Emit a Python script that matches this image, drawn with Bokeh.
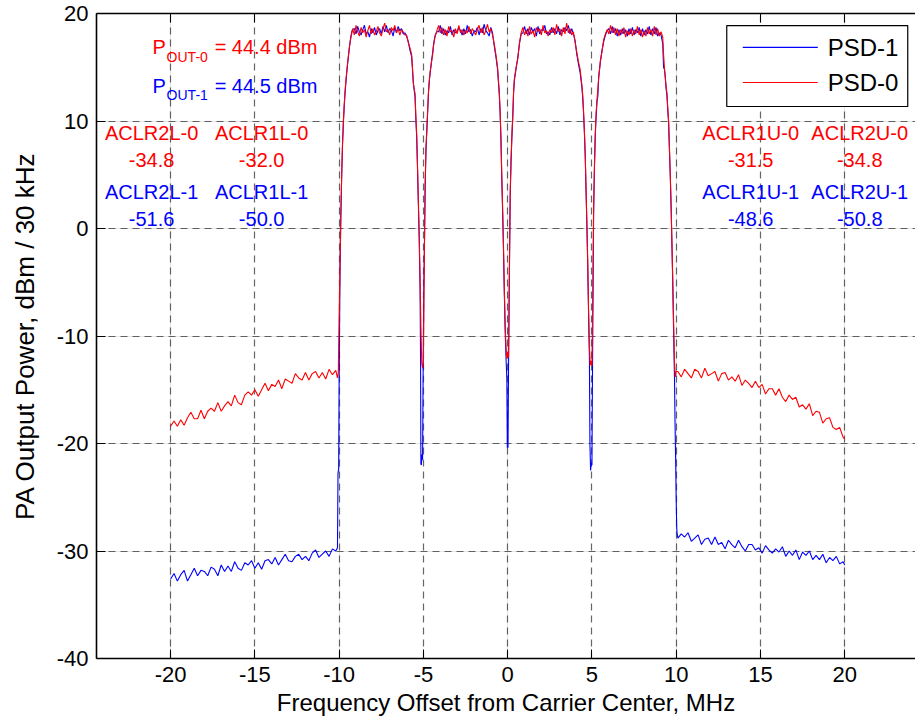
from bokeh.plotting import figure
from bokeh.models import (LinearAxis, FixedTicker, Range1d, Grid, BoxAnnotation)
from bokeh.core.properties import value
from bokeh.embed import file_html
from bokeh.resources import INLINE

# ---------------- data ----------------
# lower adjacent region (shared frequency grid, MHz)
lower_aclr_f = [-20.0, -19.8, -19.6, -19.4, -19.2, -19.0, -18.8, -18.6, -18.4, -18.2,
                -18.0, -17.8, -17.6, -17.4, -17.2, -17.0, -16.8, -16.6, -16.4, -16.2,
                -16.0, -15.8, -15.6, -15.4, -15.2, -15.0, -14.8, -14.6, -14.4, -14.2,
                -14.0, -13.8, -13.6, -13.4, -13.2, -13.0, -12.8, -12.6, -12.4, -12.2,
                -12.0, -11.8, -11.6, -11.4, -11.2, -11.0, -10.8, -10.6, -10.4, -10.2]
lower_aclr_psd0 = [-18.4, -17.9, -18.4, -17.8, -18.3, -17.6, -17.1, -17.7, -17.7, -16.9,
                   -17.7, -17.0, -16.7, -17.0, -16.2, -17.0, -16.5, -16.1, -16.5, -15.5,
                   -16.2, -16.4, -15.5, -15.2, -15.5, -15.0, -15.6, -15.0, -14.4, -15.1,
                   -14.5, -14.7, -14.1, -14.9, -14.0, -14.2, -14.4, -13.5, -13.9, -14.1,
                   -13.4, -14.1, -13.5, -13.3, -13.9, -13.4, -14.0, -13.1, -13.6, -13.2]
lower_aclr_psd1 = [-32.6, -32.1, -32.8, -32.2, -31.8, -32.8, -32.2, -31.6, -32.3, -31.8,
                   -31.9, -32.3, -31.5, -31.7, -32.3, -31.3, -31.9, -31.4, -31.9, -31.0,
                   -31.6, -31.8, -31.1, -31.3, -30.9, -31.6, -31.1, -31.7, -30.9, -30.8,
                   -31.2, -30.6, -31.3, -30.8, -30.3, -30.9, -31.0, -30.5, -30.3, -30.8,
                   -30.5, -30.9, -30.2, -29.9, -30.6, -30.3, -30.0, -30.5, -29.8, -30.0]

# edge at -10 MHz
edge_a_f0 = [-10.1, -10.05, -10.0, -9.95, -9.9, -9.85, -9.8, -9.75, -9.7, -9.65,
             -9.6, -9.55, -9.5, -9.45, -9.4, -9.35, -9.3, -9.25, -9.2]
edge_a_psd0 = [-13.9, -13.4, -8.0, -3.5, 1.5, 5.0, 8.0, 10.0, 11.5, 12.8,
               13.8, 14.6, 15.4, 16.1, 16.8, 17.3, 17.8, 18.2, 18.6]
edge_a_f1 = [-10.1, -10.07, -10.03, -10.0, -9.95, -9.9, -9.85, -9.8, -9.75, -9.7,
             -9.65, -9.6, -9.55, -9.5, -9.45, -9.4, -9.35, -9.3, -9.25, -9.2]
edge_a_psd1 = [-29.7, -22.8, -22.3, -13.5, -4.0, 1.0, 5.0, 7.8, 9.8, 11.4,
               12.6, 13.6, 14.5, 15.3, 16.0, 16.7, 17.4, 17.9, 18.3, 18.5]

# carrier 1 top
top1_f = [-9.1, -9.0, -8.9, -8.8, -8.7, -8.6, -8.5, -8.4, -8.3, -8.2, -8.1, -8.0, -7.9,
          -7.8, -7.7, -7.6, -7.5, -7.4, -7.3, -7.2, -7.1, -7.0, -6.9, -6.8, -6.7, -6.6,
          -6.5, -6.4, -6.3, -6.2, -6.1]
top1_psd0 = [18.0, 18.9, 18.3, 17.9, 18.7, 18.2, 18.5, 17.8, 18.4, 18.9, 18.1, 18.6, 18.0,
             18.3, 18.8, 18.2, 17.9, 18.6, 19.1, 18.3, 18.5, 18.0, 18.7, 18.4, 18.9, 18.2,
             18.6, 18.0, 18.5, 18.3, 18.0]
top1_psd1 = [18.6, 18.1, 18.8, 18.3, 18.0, 18.5, 18.9, 18.1, 18.3, 17.8, 18.6, 18.2, 18.7,
             18.0, 18.4, 18.6, 18.1, 18.8, 18.3, 18.9, 18.2, 18.6, 18.4, 17.9, 18.7, 18.2,
             18.8, 18.4, 18.6, 18.1, 18.2]

# gap at -5 MHz
edge_b_f0 = [-6.0, -5.9, -5.8, -5.7, -5.65, -5.6, -5.55, -5.5, -5.45, -5.4, -5.35, -5.3,
             -5.25, -5.2, -5.15, -5.1, -5.05, -5.0, -4.95, -4.9, -4.85, -4.8, -4.75, -4.7,
             -4.65, -4.6, -4.55, -4.5, -4.45, -4.4, -4.35, -4.3, -4.2]
edge_b_psd0 = [18.0, 17.3, 16.8, 16.2, 15.0, 13.5, 13.0, 12.6, 10.5, 8.8, 5.8, 2.6,
               -0.5, -4.5, -9.0, -12.5, -13.0, -12.2, -3.0, 4.0, 7.5, 9.2, 11.0, 12.8,
               13.8, 14.6, 15.2, 15.7, 16.2, 17.0, 17.5, 17.9, 18.4]
edge_b_f1 = [-6.0, -5.9, -5.8, -5.7, -5.65, -5.6, -5.55, -5.5, -5.45, -5.4, -5.35, -5.3,
             -5.25, -5.2, -5.17, -5.15, -5.12, -5.08, -5.05, -5.02, -4.98, -4.95, -4.9,
             -4.85, -4.8, -4.75, -4.7, -4.65, -4.6, -4.55, -4.5, -4.45, -4.4, -4.35, -4.3, -4.2]
edge_b_psd1 = [17.9, 17.4, 16.6, 16.0, 14.8, 13.6, 12.9, 12.3, 10.2, 8.5, 5.5, 2.2,
               -1.0, -5.5, -12.0, -21.9, -22.0, -21.0, -21.5, -14.0, -6.0, -3.0, 3.5,
               7.2, 9.0, 10.8, 12.6, 13.7, 14.5, 15.1, 15.8, 16.4, 17.1, 17.6, 18.0, 18.3]

# carrier 2 top
top2_f = [-4.1, -4.0, -3.9, -3.8, -3.7, -3.6, -3.5, -3.4, -3.3, -3.2, -3.1, -3.0, -2.9,
          -2.8, -2.7, -2.6, -2.5, -2.4, -2.3, -2.2, -2.1, -2.0, -1.9, -1.8, -1.7, -1.6,
          -1.5, -1.4, -1.3, -1.2, -1.1, -1.0, -0.9]
top2_psd0 = [18.9, 18.2, 18.7, 18.0, 18.5, 17.9, 18.8, 18.3, 18.4, 17.8, 18.6, 18.1, 18.9,
             18.2, 18.5, 18.0, 18.4, 18.2, 18.8, 18.1, 18.6, 18.3, 18.0, 18.5, 18.9, 18.2,
             18.7, 18.0, 18.4, 19.0, 18.3, 18.6, 18.0]
top2_psd1 = [18.3, 18.9, 18.1, 18.6, 18.0, 18.4, 18.2, 18.8, 18.0, 18.5, 18.2, 18.3, 18.7,
             18.4, 18.0, 18.6, 18.1, 18.9, 18.3, 18.5, 17.9, 18.4, 18.3, 18.7, 18.0, 18.6,
             18.2, 19.0, 18.4, 18.2, 17.9, 18.7, 18.2]

# gap at 0 MHz
edge_c_f0 = [-0.8, -0.7, -0.6, -0.55, -0.5, -0.45, -0.4, -0.35, -0.3, -0.25, -0.2, -0.15,
             -0.1, -0.05, 0.0, 0.05, 0.1, 0.15, 0.2, 0.25, 0.3, 0.35, 0.4, 0.5, 0.6, 0.7, 0.8]
edge_c_psd0 = [17.2, 16.2, 15.0, 13.8, 12.8, 11.0, 8.5, 5.0, 2.0, -1.5, -5.5, -9.0,
               -11.0, -12.1, -11.5, -12.0, -4.0, 3.5, 6.5, 8.8, 10.5, 12.8, 14.0, 15.0,
               15.8, 17.3, 18.2]
edge_c_f1 = [-0.8, -0.7, -0.6, -0.55, -0.5, -0.45, -0.4, -0.35, -0.3, -0.25, -0.2, -0.15,
             -0.1, -0.05, -0.02, 0.0, 0.02, 0.05, 0.1, 0.15, 0.2, 0.25, 0.3, 0.35, 0.4,
             0.5, 0.6, 0.7, 0.8]
edge_c_psd1 = [17.0, 16.0, 14.8, 13.6, 12.5, 10.8, 8.2, 4.6, 1.5, -2.0, -6.0, -9.5,
               -12.0, -14.0, -20.4, -17.0, -20.4, -13.0, -4.5, 3.0, 6.2, 8.5, 10.2, 12.6,
               13.8, 14.9, 15.9, 17.2, 18.1]

# carrier 3 top
top3_f = [0.9, 1.0, 1.1, 1.2, 1.3, 1.4, 1.5, 1.6, 1.7, 1.8, 1.9, 2.0, 2.1, 2.2, 2.3, 2.4,
          2.5, 2.6, 2.7, 2.8, 2.9, 3.0, 3.1, 3.2, 3.3, 3.4, 3.5, 3.6, 3.7, 3.8, 3.9]
top3_psd0 = [18.7, 18.0, 18.5, 17.9, 18.8, 18.1, 18.4, 17.8, 18.7, 18.3, 18.6, 18.0, 18.9,
             18.2, 18.4, 17.9, 18.5, 18.2, 18.7, 18.0, 19.0, 18.3, 18.6, 17.9, 18.7, 18.1,
             19.1, 18.2, 18.6, 18.0, 18.3]
top3_psd1 = [18.2, 18.8, 18.1, 18.6, 18.0, 18.7, 18.3, 18.6, 17.9, 18.8, 18.1, 18.5, 18.4,
             18.9, 18.1, 18.3, 18.0, 18.7, 18.2, 18.6, 18.1, 18.8, 18.0, 18.5, 18.3, 18.7,
             18.4, 18.9, 18.1, 18.6, 18.1]

# gap at +5 MHz
edge_d_f0 = [4.0, 4.1, 4.2, 4.3, 4.4, 4.45, 4.5, 4.55, 4.6, 4.65, 4.7, 4.75, 4.8, 4.85,
             4.9, 4.95, 5.0, 5.05, 5.1, 5.15, 5.2, 5.25, 5.3, 5.35, 5.4, 5.5, 5.6, 5.7,
             5.8, 5.9]
edge_d_psd0 = [17.3, 16.4, 15.5, 14.8, 13.4, 12.5, 11.0, 9.2, 7.0, 3.8, 0.5, -3.0, -7.5,
               -11.0, -12.7, -12.3, -12.8, -6.0, 2.0, 6.0, 9.0, 10.8, 12.0, 13.0, 14.0,
               15.6, 16.5, 17.6, 18.1, 18.5]
edge_d_f1 = [4.0, 4.1, 4.2, 4.3, 4.4, 4.45, 4.5, 4.55, 4.6, 4.65, 4.7, 4.75, 4.8, 4.85,
             4.88, 4.92, 4.96, 5.0, 5.03, 5.07, 5.1, 5.15, 5.2, 5.25, 5.3, 5.35, 5.4, 5.5,
             5.6, 5.7, 5.8, 5.9]
edge_d_psd1 = [17.5, 16.2, 15.3, 14.5, 13.2, 12.2, 10.8, 9.0, 6.8, 3.5, 0.2, -3.5, -8.0,
               -12.0, -20.0, -22.5, -21.8, -22.0, -14.0, -5.0, 1.5, 5.7, 8.7, 10.5, 11.8,
               12.3, 14.1, 15.5, 16.6, 17.4, 18.0, 18.4]

# carrier 4 top
top4_f = [6.0, 6.1, 6.2, 6.3, 6.4, 6.5, 6.6, 6.7, 6.8, 6.9, 7.0, 7.1, 7.2, 7.3, 7.4, 7.5,
          7.6, 7.7, 7.8, 7.9, 8.0, 8.1, 8.2, 8.3, 8.4, 8.5, 8.6, 8.7, 8.8, 8.9, 9.0, 9.1]
top4_psd0 = [18.1, 18.9, 18.2, 18.7, 18.0, 18.6, 17.9, 18.5, 18.1, 18.7, 17.8, 18.4, 18.0,
             18.6, 17.9, 18.5, 18.1, 18.8, 18.0, 18.5, 17.8, 18.4, 17.9, 18.7, 18.1, 18.5,
             17.9, 18.8, 18.0, 18.6, 17.9, 18.3]
top4_psd1 = [18.6, 18.1, 18.8, 18.2, 18.6, 17.9, 18.5, 18.0, 18.6, 18.1, 18.5, 17.9, 18.6,
             18.1, 18.7, 18.0, 18.5, 18.2, 18.7, 17.9, 18.6, 18.0, 18.5, 18.1, 18.8, 18.0,
             18.6, 18.1, 18.7, 17.9, 18.2, 18.0]

# edge at +10 MHz
edge_e_f0 = [9.2, 9.25, 9.3, 9.35, 9.4, 9.45, 9.5, 9.55, 9.6, 9.65, 9.7, 9.75, 9.8,
             9.85, 9.9, 9.95, 10.0]
edge_e_psd0 = [17.8, 16.2, 15.0, 14.0, 13.2, 12.6, 11.2, 10.0, 7.5, 5.0, 2.0, -1.5, -5.0,
               -9.0, -12.5, -13.8, -13.3]
edge_e_f1 = [9.2, 9.25, 9.3, 9.35, 9.4, 9.45, 9.5, 9.55, 9.6, 9.65, 9.7, 9.75, 9.8,
             9.85, 9.9, 9.93, 9.97, 10.0, 10.03, 10.05]
edge_e_psd1 = [17.2, 15.0, 14.8, 14.2, 13.0, 12.4, 11.0, 9.8, 7.2, 4.8, 1.8, -1.8, -5.5,
               -10.0, -14.0, -18.0, -21.9, -25.3, -27.8, -28.3]

# upper adjacent region
upper_aclr_f = [10.1, 10.3, 10.5, 10.7, 10.9, 11.1, 11.3, 11.5, 11.7, 11.9,
                12.1, 12.3, 12.5, 12.7, 12.9, 13.1, 13.3, 13.5, 13.7, 13.9,
                14.1, 14.3, 14.5, 14.7, 14.9, 15.1, 15.3, 15.5, 15.7, 15.9,
                16.1, 16.3, 16.5, 16.7, 16.9, 17.1, 17.3, 17.5, 17.7, 17.9,
                18.1, 18.3, 18.5, 18.7, 18.9, 19.1, 19.3, 19.5, 19.7, 19.9, 20.0]
upper_aclr_psd0 = [-13.3, -13.8, -13.1, -13.5, -13.9, -13.1, -13.3, -13.9, -13.0, -13.7,
                   -13.5, -13.3, -14.2, -13.5, -13.4, -14.1, -13.8, -14.2, -13.6, -14.6,
                   -14.1, -14.4, -14.8, -14.2, -14.8, -14.5, -15.4, -14.9, -14.9, -15.5,
                   -14.9, -15.7, -16.1, -15.5, -15.9, -15.7, -16.6, -16.4, -16.8, -16.3,
                   -17.4, -17.0, -17.1, -18.1, -17.7, -17.6, -18.5, -18.7, -18.5, -19.4, -19.6]
upper_aclr_psd1 = [-28.8, -28.4, -28.7, -28.3, -29.1, -28.8, -28.5, -29.4, -28.9, -28.8,
                   -29.4, -28.7, -29.4, -29.2, -29.8, -29.0, -29.4, -29.7, -29.0, -29.6,
                   -30.0, -29.4, -29.4, -29.9, -29.7, -30.2, -29.5, -29.9, -30.2, -29.8,
                   -30.1, -29.6, -30.5, -30.0, -30.4, -29.9, -30.8, -30.1, -30.4, -30.0,
                   -30.8, -30.4, -30.8, -30.3, -31.1, -30.6, -30.9, -30.5, -31.2, -31.0, -31.3]

series_names = ["PSD-1", "PSD-0"]
pout_0 = "44.4"
pout_1 = "44.5"
aclr_names = ["ACLR2L", "ACLR1L", "ACLR1U", "ACLR2U"]
aclr_psd0 = ["-34.8", "-32.0", "-31.5", "-34.8"]
aclr_psd1 = ["-51.6", "-50.0", "-48.6", "-50.8"]

x_ticks = [-20, -15, -10, -5, 0, 5, 10, 15, 20]
x_tick_labels = ["-20", "-15", "-10", "-5", "0", "5", "10", "15", "20"]
y_ticks = [-40, -30, -20, -10, 0, 10, 20]
y_tick_labels = ["-40", "-30", "-20", "-10", "0", "10", "20"]

# ---------------- assemble series ----------------
psd0_f = (lower_aclr_f + edge_a_f0 + top1_f + edge_b_f0 + top2_f + edge_c_f0 + top3_f
          + edge_d_f0 + top4_f + edge_e_f0 + upper_aclr_f)
psd0_y = (lower_aclr_psd0 + edge_a_psd0 + top1_psd0 + edge_b_psd0 + top2_psd0 + edge_c_psd0
          + top3_psd0 + edge_d_psd0 + top4_psd0 + edge_e_psd0 + upper_aclr_psd0)
psd1_f = (lower_aclr_f + edge_a_f1 + top1_f + edge_b_f1 + top2_f + edge_c_f1 + top3_f
          + edge_d_f1 + top4_f + edge_e_f1 + upper_aclr_f)
psd1_y = (lower_aclr_psd1 + edge_a_psd1 + top1_psd1 + edge_b_psd1 + top2_psd1 + edge_c_psd1
          + top3_psd1 + edge_d_psd1 + top4_psd1 + edge_e_psd1 + upper_aclr_psd1)

# ---------------- figure ----------------
FONT = "Liberation Sans"
RED = "#FF0000"
BLUE = "#0000FF"
series_colors = [BLUE, RED]

p = figure(width=915, height=725, output_backend="svg", toolbar_location=None,
           x_range=Range1d(-24.4, 24.2), y_range=Range1d(-40, 20),
           x_axis_location=None, y_axis_location=None,
           min_border_left=96, min_border_right=0, min_border_top=13, min_border_bottom=67)
p.outline_line_color = None
p.background_fill_color = "white"
p.border_fill_color = "white"

def style_axis(ax, labels, ticks):
    ax.ticker = FixedTicker(ticks=ticks)
    ax.major_label_overrides = {t: l for t, l in zip(ticks, labels)}
    ax.major_tick_in = 9
    ax.major_tick_out = 0
    ax.minor_tick_line_color = None
    ax.major_tick_line_color = "black"
    ax.axis_line_color = "black"
    ax.axis_line_width = 1.6
    ax.major_label_text_font = FONT
    ax.major_label_text_font_size = "22px"
    ax.major_label_text_color = "black"
    ax.axis_label_text_font = FONT
    ax.axis_label_text_font_style = "normal"
    ax.axis_label_text_color = "black"

xax = LinearAxis(axis_label="Frequency Offset from Carrier Center, MHz")
style_axis(xax, x_tick_labels, x_ticks)
xax.major_label_standoff = 8
xax.axis_label_standoff = 4
xax.axis_label_text_font_size = "24px"
p.add_layout(xax, "below")

yax = LinearAxis(axis_label="PA Output Power, dBm / 30 kHz")
style_axis(yax, y_tick_labels, y_ticks)
yax.major_label_standoff = 8
yax.axis_label_standoff = 14
yax.axis_label_text_font_size = "26px"
p.add_layout(yax, "left")

tax = LinearAxis()
style_axis(tax, ["" for _ in x_ticks], x_ticks)
tax.major_label_text_font_size = "0px"
tax.major_label_standoff = 0
p.add_layout(tax, "above")

grid_style = dict(grid_line_color="#333333", grid_line_alpha=0.75,
                  grid_line_dash="7 5", grid_line_width=1.2)
p.add_layout(Grid(dimension=0, ticker=FixedTicker(ticks=x_ticks), **grid_style))
p.add_layout(Grid(dimension=1, ticker=FixedTicker(ticks=y_ticks), **grid_style))

r1 = p.line(psd1_f, psd1_y, line_color=BLUE, line_width=1.1)
r0 = p.line(psd0_f, psd0_y, line_color=RED, line_width=1.1)

# ---------------- legend (box + key lines + labels) ----------------
legend_box = BoxAnnotation(left=13.0, right=23.74, top=18.88, bottom=11.35,
                           fill_color="white", fill_alpha=1.0,
                           line_color="black", line_alpha=1.0, line_width=1.2,
                           level="annotation")
p.add_layout(legend_box)
key_x0, key_x1, key_label_x = 13.95, 18.40, 18.99
key_rows = [16.84, 13.58]
p.segment(x0=[key_x0] * 2, x1=[key_x1] * 2, y0=key_rows, y1=key_rows,
          line_color=series_colors, line_width=1.2, level="overlay")
p.text(x=[key_label_x] * 2, y=key_rows, text=series_names, text_color="black",
       text_font=value(FONT), text_font_size="24px", text_align="left",
       text_baseline="middle", level="overlay")

tf = value(FONT)
# output power annotations
p.text(x=[-21.07], y=[16.84], text=["P"], text_color=RED, text_font=tf,
       text_font_size="20px", text_align="left", text_baseline="alphabetic")
p.text(x=[-20.24], y=[15.95], text=["OUT-0"], text_color=RED, text_font=tf,
       text_font_size="14px", text_align="left", text_baseline="alphabetic")
p.text(x=[-17.39], y=[16.84], text=["= " + pout_0 + " dBm"], text_color=RED, text_font=tf,
       text_font_size="20px", text_align="left", text_baseline="alphabetic")
p.text(x=[-21.07], y=[13.30], text=["P"], text_color=BLUE, text_font=tf,
       text_font_size="20px", text_align="left", text_baseline="alphabetic")
p.text(x=[-20.24], y=[12.41], text=["OUT-1"], text_color=BLUE, text_font=tf,
       text_font_size="14px", text_align="left", text_baseline="alphabetic")
p.text(x=[-17.39], y=[13.30], text=["= " + pout_1 + " dBm"], text_color=BLUE, text_font=tf,
       text_font_size="20px", text_align="left", text_baseline="alphabetic")

# ACLR annotations
aclr_x = [-21.13, -14.6, 14.42, 20.89]
row_y = [8.84, 6.33, 3.35, 0.93]
p.text(x=aclr_x, y=[row_y[0]] * 4, text=[n + "-0" for n in aclr_names], text_color=RED,
       text_font=tf, text_font_size="20px", text_align="center", text_baseline="middle")
p.text(x=aclr_x, y=[row_y[1]] * 4, text=aclr_psd0, text_color=RED,
       text_font=tf, text_font_size="20px", text_align="center", text_baseline="middle")
p.text(x=aclr_x, y=[row_y[2]] * 4, text=[n + "-1" for n in aclr_names], text_color=BLUE,
       text_font=tf, text_font_size="20px", text_align="center", text_baseline="middle")
p.text(x=aclr_x, y=[row_y[3]] * 4, text=aclr_psd1, text_color=BLUE,
       text_font=tf, text_font_size="20px", text_align="center", text_baseline="middle")

open("out.html", "w").write(file_html(p, INLINE))
